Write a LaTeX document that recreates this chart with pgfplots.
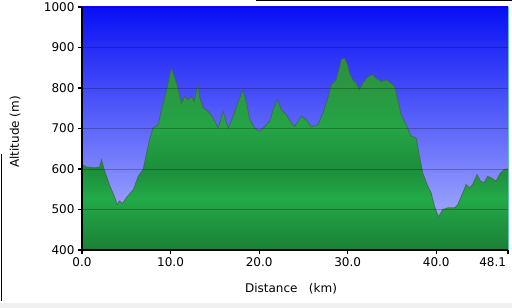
\documentclass[border=0pt]{standalone}
\usepackage{pgfplots}
\pgfplotsset{compat=1.18}
\usepackage{pgfplotstable}
\usepackage{fontspec}
\setmainfont{DejaVu Sans}
\definecolor{bgtop}{RGB}{8,16,245}
\definecolor{bgbot}{RGB}{182,190,255}
\definecolor{ga}{RGB}{28,128,54}
\definecolor{gb}{RGB}{34,170,72}
\definecolor{gc}{RGB}{28,142,58}
\definecolor{gd}{RGB}{36,165,70}
\definecolor{ge}{RGB}{46,142,62}
\definecolor{edge}{RGB}{70,95,75}
\definecolor{teal}{RGB}{100,190,180}
\pgfdeclareverticalshading{greenfill}{100bp}{color(0bp)=(ga); color(25bp)=(ga); color(38.5bp)=(gb); color(46bp)=(gc); color(56.5bp)=(gd); color(75bp)=(ge); color(100bp)=(ge)}
\pgfplotstableread{
km alt
0 611
0.5 605
1.5 603
2.0 605
2.2 623
2.5 599
3.15 558
3.6 535
3.98 512
4.2 521
4.6 515
5.0 529
5.8 549
6.35 582
6.9 599
7.3 640
7.67 677
8.04 701
8.6 709
8.98 746
9.55 796
10.1 849
10.68 812
11.24 763
11.6 779
12.0 771
12.37 779
12.66 767
13.1 808
13.3 775
13.68 751
14.24 742
14.8 726
15.37 701
15.93 742
16.5 701
17.06 730
17.6 763
18.18 796
18.57 763
18.94 722
19.5 701
20.07 693
20.6 704
21.2 718
21.57 746
22.06 771
22.5 746
23.08 734
23.64 714
24.0 705
24.77 730
25.33 722
25.9 704
26.64 709
27.2 738
27.77 775
28.15 808
28.7 820
29.28 870
29.65 874
30.0 857
30.2 837
30.6 820
30.97 812
31.34 796
31.7 812
32.28 828
32.84 833
33.2 824
33.8 816
34.35 820
34.9 812
35.3 804
35.66 771
36.04 734
36.6 709
37.17 681
37.73 677
38.1 631
38.48 590
39.04 558
39.42 541
39.8 508
40.25 482
40.73 500
41.3 504
42.05 504
42.43 512
43.0 541
43.37 562
43.74 553
44.1 562
44.6 586
45.0 570
45.4 566
45.8 582
46.2 578
46.75 570
47.24 590
47.7 599
48.1 600
}\profile
\begin{document}
\begin{tikzpicture}[x=1pt,y=1pt]
\useasboundingbox (0,0) rectangle (512,308);
\fill[white] (0,0) rectangle (512,308);
\fill[black!6] (0,0) rectangle (512,5);
\draw[black, line width=1pt] (1.5,7) -- (1.5,154);
\draw[black, line width=1pt] (256,307) -- (512,307);
\begin{axis}[
  at={(82pt,58pt)}, anchor=south west,
  scale only axis, width=426pt, height=243pt,
  xmin=0, xmax=48.1, ymin=400, ymax=1000,
  axis x line*=bottom, axis y line*=left,
  axis line style={black, line width=1.5pt},
  axis background/.style={top color=bgtop, bottom color=bgbot},
  axis on top,
  xtick={0,10,20,30,40,48.1},
  xticklabels={0.0,10.0,20.0,30.0,40.0,\makebox[0pt][r]{48.1\hspace{2pt}}},
  ytick={400,500,600,700,800,900,1000},
  yticklabels={400,500,600,700,800,900,1000},
  tick align=outside,
  major tick length=4pt,
  tick style={black, line width=1.2pt},
  ymajorgrids,
  major grid style={black, opacity=0.25, line width=0.8pt},
  ticklabel style={font=\fontsize{12}{14}\selectfont},
  clip=true,
]
\addplot[draw=none, shade, shading=greenfill] table[x=km,y=alt]{\profile} \closedcycle;
\addplot[color=edge, line width=0.8pt, opacity=0.75] table[x=km,y=alt]{\profile};
\end{axis}
\draw[teal, line width=1pt] (508,58) -- (508,301);
\node[font=\fontsize{12}{14}\selectfont] at (291,19) {Distance\ \ \ (km)};
\node[font=\fontsize{12}{14}\selectfont, rotate=90] at (15,176) {Altitude (m)};
\end{tikzpicture}
\end{document}
